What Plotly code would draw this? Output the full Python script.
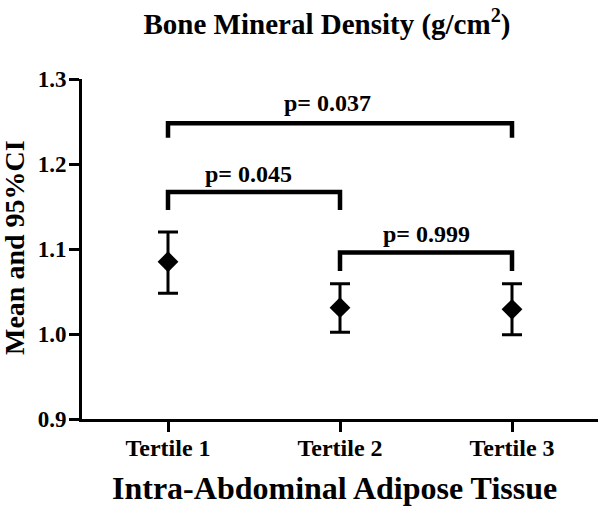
import plotly.graph_objects as go

# ---- data ----
categories = ["Tertile 1", "Tertile 2", "Tertile 3"]
means = [1.085, 1.031, 1.029]
ci_upper = [1.120, 1.059, 1.059]
ci_lower = [1.048, 1.002, 0.999]

# significance brackets: (left category index, right category index)
bracket_pairs = [(0, 1), (1, 2), (0, 2)]
bracket_heights = [1.167, 1.096, 1.248]
bracket_drops = [1.146, 1.074, 1.231]
p_labels = ["p= 0.045", "p= 0.999", "p= 0.037"]
p_label_x = [0.47, 1.50, 0.93]
p_label_y = [1.188, 1.118, 1.272]

FONT = "Liberation Serif"

x_idx = list(range(len(categories)))
err_plus = [u - m for u, m in zip(ci_upper, means)]
err_minus = [m - l for m, l in zip(means, ci_lower)]

fig = go.Figure()
fig.add_trace(go.Scatter(
    x=x_idx, y=means, mode="markers",
    marker=dict(symbol="diamond", size=16, color="black"),
    error_y=dict(type="data", symmetric=False, array=err_plus, arrayminus=err_minus,
                 color="black", thickness=3, width=10),
    showlegend=False,
))

for (a, b), h, d in zip(bracket_pairs, bracket_heights, bracket_drops):
    fig.add_trace(go.Scatter(
        x=[a, a, b, b], y=[d, h, h, d], mode="lines",
        line=dict(color="black", width=4.5), showlegend=False, hoverinfo="skip",
    ))

for txt, px, py in zip(p_labels, p_label_x, p_label_y):
    fig.add_annotation(x=px, y=py, xref="x", yref="y", text=txt, showarrow=False,
                       xanchor="center", yanchor="middle",
                       font=dict(family=FONT, size=24, color="black", weight="bold"))

fig.update_layout(
    width=600, height=509,
    paper_bgcolor="white", plot_bgcolor="white",
    margin=dict(l=82, r=2, t=79, b=90),
    title=dict(text="Bone Mineral Density (g/cm<sup>2</sup>)", x=0.545, xanchor="center",
               y=0.953, yanchor="middle",
               font=dict(family=FONT, size=29, color="black", weight="bold")),
    font=dict(family=FONT, color="black"),
)

fig.update_xaxes(
    range=[-0.5, 2.5], tickmode="array", tickvals=x_idx, ticktext=categories,
    showline=True, linecolor="black", linewidth=3, ticks="outside", ticklen=10,
    tickwidth=3, tickcolor="black", showgrid=False, zeroline=False,
    ticklabelstandoff=-5,
    tickfont=dict(family=FONT, size=24, color="black", weight="bold"),
)
fig.update_yaxes(
    range=[0.9, 1.3], tick0=0.9, dtick=0.1, tickformat=".1f",
    showline=True, linecolor="black", linewidth=3, ticks="outside", ticklen=10,
    tickwidth=3, tickcolor="black", showgrid=False, zeroline=False,
    ticklabelstandoff=-2,
    tickfont=dict(family=FONT, size=23, color="black", weight="bold"),
)

fig.add_annotation(text="Mean and 95%CI", xref="paper", yref="paper",
                   x=(14 - 82) / 516, y=(419 - 248) / 340, textangle=-90,
                   showarrow=False, xanchor="center", yanchor="middle",
                   font=dict(family=FONT, size=28, color="black", weight="bold"))
fig.add_annotation(text="Intra-Abdominal Adipose Tissue", xref="paper", yref="paper",
                   x=(334 - 82) / 516, y=(419 - 488) / 340,
                   showarrow=False, xanchor="center", yanchor="middle",
                   font=dict(family=FONT, size=32, color="black", weight="bold"))

# remove the browser's default 8px body margin so the figure fills the window
fig.write_html("out.html",
               config={"displayModeBar": False},
               post_script="document.body.style.margin='0px';")
